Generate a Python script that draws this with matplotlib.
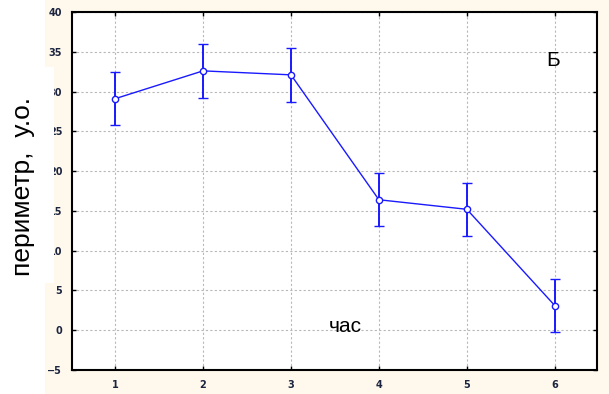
import matplotlib
matplotlib.use("Agg")
import matplotlib.pyplot as plt
from matplotlib.patches import Rectangle

# perimeter (arb. units) by hour, mean +/- error
hours = [1, 2, 3, 4, 5, 6]
perimeter = [29.1, 32.6, 32.1, 16.4, 15.2, 3.1]
err = [3.3, 3.4, 3.35, 3.3, 3.3, 3.3]
yticks = [-5, 0, 5, 10, 15, 20, 25, 30, 35, 40]

W, H = 609, 394
fig = plt.figure(figsize=(W / 100, H / 100), dpi=100, facecolor="#fff8ec")
ax = fig.add_axes([72 / W, 1 - 370 / H, (597 - 72) / W, (370 - 12) / H])
ax.set_facecolor("white")

ax.errorbar(hours, perimeter, yerr=err, color="#1a1aff", lw=1.0,
            elinewidth=1.4, capsize=3.5, capthick=1.4,
            marker="o", ms=4.5, mfc="white", mec="#1a1aff", mew=1.0,
            zorder=3)

ax.set_xlim(0.51, 6.48)
ax.set_ylim(-5, 40)
ax.set_xticks(hours)
ax.set_yticks(yticks)
ax.grid(True, color="#b8b8b8", lw=0.8, ls=(0, (2, 2)))
ax.tick_params(direction="in", length=3, width=1, top=True, right=True,
               labelsize=7, labelcolor="#1c2540", pad=7)
for lab in ax.get_xticklabels() + ax.get_yticklabels():
    lab.set_fontweight("bold")
for s in ax.spines.values():
    s.set_linewidth(1.5)
    s.set_color("black")

# panel letter and x caption, placed in pixels
ax.text(553, H - 60, "Б", transform=None, fontsize=15,
        family="Liberation Sans", ha="center", va="center")
ax.text(345, H - 327, "час", transform=None, fontsize=15,
        family="Liberation Sans", ha="center", va="center")

# white margin on the left, plus the box behind the y label
fig.patches.append(Rectangle((0, 0), 45 / W, 1, transform=fig.transFigure,
                             facecolor="white", edgecolor="none", zorder=1))
fig.patches.append(Rectangle((0, 1 - 283 / H), 54 / W, 216 / H,
                             transform=fig.transFigure, facecolor="white",
                             edgecolor="none", zorder=1))
fig.text(23 / W, 1 - 186 / H, "периметр,  у.о.", rotation=90, fontsize=19,
         family="Liberation Sans", ha="center", va="center", zorder=2)

fig.savefig("out.png", dpi=100, facecolor=fig.get_facecolor())
